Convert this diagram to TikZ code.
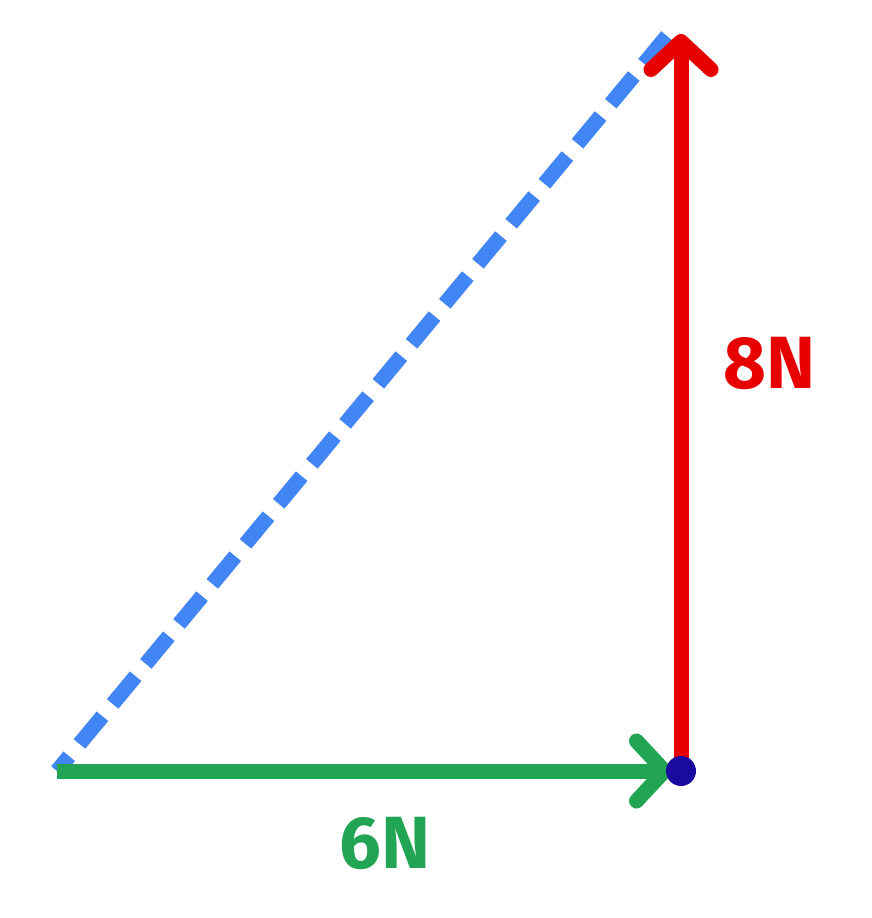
\documentclass[tikz,border=0pt]{standalone}
\usepackage{fontspec}
\setmainfont{Fira Sans}
\usetikzlibrary{arrows.meta}
\definecolor{gr}{HTML}{22A455}
\definecolor{rd}{HTML}{E60000}
\definecolor{bl}{HTML}{4285F4}
\definecolor{dt}{HTML}{1A0AA0}
\begin{document}
\begin{tikzpicture}[x=1pt,y=-1pt,
  vec/.style={line width=15pt,-{Straight Barb[length=28pt,width=60pt,line cap=round,round]}},
  lbl/.style={font=\fontsize{74}{74}\selectfont\bfseries}]
\useasboundingbox (0,0) rectangle (871,918);
\coordinate (O) at (57,771);
\coordinate (P) at (681,771);
\coordinate (T) at (681,34);
\coordinate (D) at (667,36);
\draw[bl,line width=15pt,dash pattern=on 36pt off 16pt] (D) -- (O);
\draw[vec,gr] (O) -- (672,771);
\draw[vec,rd] (P) -- (T);
\fill[dt] (P) circle (15);
\node[lbl,text=gr] (a) at (385,843) {6N};
\node[lbl,text=rd] (b) at (770,363) {8N};
\end{tikzpicture}
\end{document}
